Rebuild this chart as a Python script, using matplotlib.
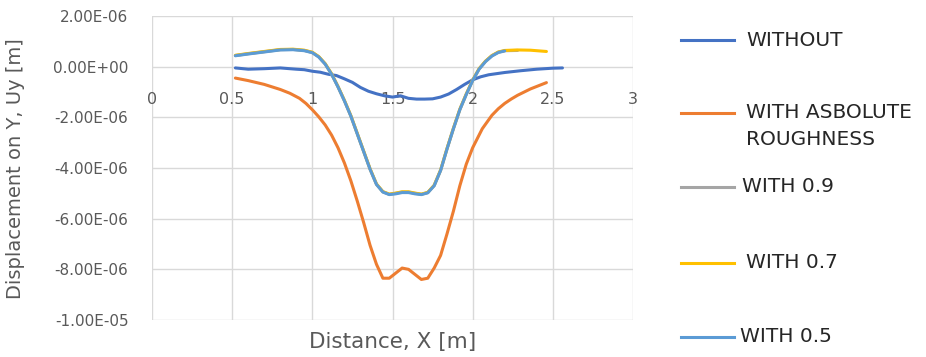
import matplotlib.pyplot as plt
from matplotlib.lines import Line2D
from matplotlib.ticker import FixedLocator, FuncFormatter

# Vertical displacement along the profile, values in micrometres (x1e-6 m)
without_x = [0.52, 0.6, 0.7, 0.8, 0.9, 0.95, 1.0, 1.05, 1.1, 1.15, 1.2, 1.25,
             1.3, 1.35, 1.4, 1.45, 1.5, 1.55, 1.6, 1.65, 1.7, 1.75, 1.8, 1.85,
             1.9, 1.95, 2.0, 2.05, 2.1, 2.2, 2.3, 2.4, 2.5, 2.56]
without_y = [-0.05, -0.1, -0.08, -0.05, -0.1, -0.12, -0.18, -0.22, -0.3, -0.35,
             -0.48, -0.62, -0.82, -0.97, -1.07, -1.15, -1.2, -1.15, -1.25, -1.28,
             -1.28, -1.27, -1.2, -1.08, -0.9, -0.7, -0.52, -0.4, -0.32, -0.23,
             -0.16, -0.1, -0.06, -0.05]

rough_x = [0.52, 0.6, 0.7, 0.8, 0.86, 0.92, 0.96, 1.0, 1.04, 1.08, 1.12, 1.16,
           1.2, 1.24, 1.28, 1.32, 1.36, 1.4, 1.44, 1.48, 1.52, 1.56, 1.6, 1.64,
           1.68, 1.72, 1.76, 1.8, 1.84, 1.88, 1.92, 1.96, 2.0, 2.06, 2.12, 2.16,
           2.2, 2.24, 2.28, 2.36, 2.46]
rough_y = [-0.45, -0.55, -0.7, -0.9, -1.05, -1.25, -1.45, -1.7, -1.98, -2.3,
           -2.7, -3.2, -3.8, -4.5, -5.3, -6.15, -7.05, -7.8, -8.35, -8.35,
           -8.15, -7.95, -8.0, -8.2, -8.4, -8.35, -7.95, -7.45, -6.6, -5.7,
           -4.7, -3.85, -3.2, -2.45, -1.92, -1.66, -1.45, -1.28, -1.13, -0.88,
           -0.63]

dip_x = [0.52, 0.6, 0.7, 0.8, 0.88, 0.95, 1.0, 1.04, 1.08, 1.12, 1.16, 1.2,
         1.24, 1.28, 1.32, 1.36, 1.4, 1.44, 1.48, 1.52, 1.56, 1.6, 1.64, 1.68,
         1.72, 1.76, 1.8, 1.84, 1.88, 1.92, 1.96, 2.0, 2.04, 2.08, 2.12, 2.16,
         2.2]
w05_y = [0.43, 0.5, 0.58, 0.66, 0.67, 0.63, 0.55, 0.38, 0.1, -0.3, -0.8,
         -1.35, -1.95, -2.65, -3.35, -4.05, -4.65, -4.95, -5.05, -5.02, -4.97,
         -4.97, -5.02, -5.05, -4.98, -4.7, -4.1, -3.25, -2.45, -1.7, -1.1,
         -0.55, -0.1, 0.2, 0.42, 0.56, 0.62]
w09_x = dip_x + [2.28]
w09_y = [0.44, 0.51, 0.59, 0.67, 0.68, 0.64, 0.56, 0.39, 0.11, -0.29, -0.79,
         -1.34, -1.94, -2.64, -3.34, -4.04, -4.64, -4.94, -5.04, -5.0, -4.95,
         -4.95, -5.0, -5.04, -4.97, -4.69, -4.09, -3.24, -2.44, -1.69, -1.09,
         -0.54, -0.09, 0.21, 0.43, 0.57, 0.63, 0.64]
w07_x = dip_x + [2.28, 2.36, 2.46]
w07_y = [0.45, 0.52, 0.6, 0.68, 0.69, 0.65, 0.57, 0.4, 0.12, -0.28, -0.78,
         -1.33, -1.93, -2.63, -3.33, -4.03, -4.63, -4.93, -5.03, -4.99, -4.94,
         -4.94, -4.99, -5.03, -4.96, -4.68, -4.08, -3.23, -2.43, -1.68, -1.08,
         -0.53, -0.08, 0.22, 0.44, 0.58, 0.64, 0.66, 0.65, 0.6]

series = [
    ("WITHOUT", without_x, without_y, "#4472C4"),
    ("WITH ASBOLUTE\nROUGHNESS", rough_x, rough_y, "#ED7D31"),
    ("WITH 0.9", w09_x, w09_y, "#A5A5A5"),
    ("WITH 0.7", w07_x, w07_y, "#FFC000"),
    ("WITH 0.5", dip_x, w05_y, "#5B9BD5"),
]

x_ticks = [0, 0.5, 1, 1.5, 2, 2.5, 3]
y_ticks = [2e-6, 0, -2e-6, -4e-6, -6e-6, -8e-6, -1e-5]

# legend rows: (line y, text x) in pixels from the top-left corner
legend_rows = [(40, 746), (113, 746), (187, 742), (263, 746), (337, 740)]

W, H = 926, 357
FONT = "DejaVu Sans"
GRAY = "#595959"


def px(x, y):
    return x / W, 1 - y / H


fig = plt.figure(figsize=(W / 100, H / 100), dpi=100)
ax = fig.add_axes([152 / W, 1 - 320 / H, 481 / W, 304 / H])

for label, xs, ys, color in series:
    ax.plot(xs, [v * 1e-6 for v in ys], color=color, lw=2.2,
            solid_capstyle="round", zorder=3)

ax.set_xlim(0, 3)
ax.set_ylim(-1e-5, 2e-6)
ax.xaxis.set_major_locator(FixedLocator(x_ticks))
ax.yaxis.set_major_locator(FixedLocator(y_ticks))
ax.xaxis.set_major_formatter(FuncFormatter(lambda v, p: f"{v:g}"))
ax.yaxis.set_major_formatter(FuncFormatter(lambda v, p: f"{round(v, 12):.2E}"))
ax.grid(True, color="#D9D9D9", lw=1.0, zorder=0)
ax.set_axisbelow(True)
for s in ax.spines.values():
    s.set_visible(False)
# category labels sit just under the zero line, Excel style
ax.spines["bottom"].set_position(("data", 0))

ax.tick_params(axis="x", length=0, pad=18, labelsize=11.5, labelcolor=GRAY)
ax.tick_params(axis="y", length=0, pad=17, labelsize=11, labelcolor=GRAY)
for t in ax.get_xticklabels() + ax.get_yticklabels():
    t.set_fontfamily(FONT)

fig.text(*px(16, 169), "Displacement on Y, Uy [m]", rotation=90,
         ha="center", va="center", fontsize=14, color=GRAY, family=FONT)
fig.text(*px(393, 342), "Distance, X [m]", ha="center", va="center",
         fontsize=15.5, color=GRAY, family=FONT)

# hand-placed legend to the right of the plot
for (label, _, _, color), (ly, tx) in zip(series, legend_rows):
    x0, y0 = px(681, ly)
    x1, _ = px(734, ly)
    fig.add_artist(Line2D([x0, x1], [y0, y0], color=color, lw=2.2,
                          transform=fig.transFigure))
    for i, part in enumerate(label.split("\n")):
        fig.text(*px(tx, ly + i * 27), part, ha="left", va="center",
                 fontsize=14.5, color="#262626", family=FONT)

fig.savefig("out.png", dpi=100)
